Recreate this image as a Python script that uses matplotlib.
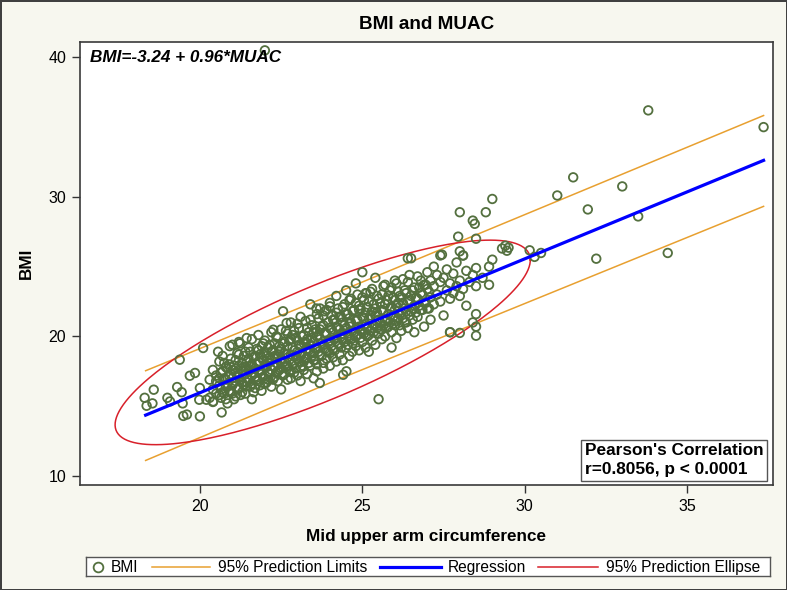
import numpy as np
import matplotlib
matplotlib.use("Agg")
import matplotlib.pyplot as plt

plt.rcParams['font.family'] = ['Liberation Sans', 'DejaVu Sans']

# MUAC columns (cm) and the BMI values in each column
muac_cols = [20.3, 20.4, 20.5, 20.6, 20.7, 20.8, 20.9, 21.0, 21.1, 21.2,
             21.3, 21.4, 21.5, 21.6, 21.7, 21.8, 21.9, 22.0, 22.1, 22.2,
             22.3, 22.4, 22.5, 22.6, 22.7, 22.8, 22.9, 23.0, 23.1, 23.2,
             23.3, 23.4, 23.5, 23.6, 23.7, 23.8, 23.9, 24.0, 24.1, 24.2,
             24.3, 24.4, 24.5, 24.6, 24.7, 24.8, 24.9, 25.0, 25.1, 25.2,
             25.3, 25.4, 25.5, 25.6, 25.7, 25.8, 25.9, 26.0, 26.1, 26.2,
             26.3, 26.4, 26.5, 26.6, 26.7, 26.8, 26.9, 27.0, 27.1, 27.2,
             27.3, 27.4, 27.5, 27.6, 27.7, 27.8, 27.9, 28.0, 28.1, 28.2,
             28.3, 28.4, 28.5, 28.7, 28.9]
bmi_cols = [
    [16.9, 15.6], [17.6, 16.2, 15.3], [16.8, 17.2, 15.9], [18.2, 16.5, 17.0, 15.8],
    [17.5, 16.0, 18.6], [16.9, 17.8, 15.5, 16.4], [17.2, 18.0, 16.1],
    [17.6, 16.5, 19.4, 15.9, 17.0], [18.3, 16.8, 17.4, 15.7], [17.9, 16.3, 18.7, 17.1, 19.6],
    [17.5, 16.0, 18.1, 16.7], [18.9, 17.3, 16.4, 17.8, 15.9], [17.6, 18.4, 16.9, 19.2],
    [18.0, 16.6, 17.2, 19.8, 15.5], [17.7, 18.6, 16.3, 17.1], [18.2, 19.0, 16.8, 17.5, 20.1],
    [17.3, 18.5, 16.1, 19.3], [18.8, 17.0, 17.9, 16.6, 19.7], [18.1, 19.2, 17.4, 16.9],
    [17.6, 18.9, 20.3, 16.4, 18.3], [19.5, 17.8, 18.6, 17.1], [18.0, 16.8, 19.9, 18.7, 17.5],
    [19.1, 17.7, 18.4, 16.2, 20.5], [18.2, 19.6, 17.3, 18.8], [17.9, 19.3, 16.9, 20.2, 18.5],
    [18.7, 17.5, 19.8, 17.0, 21.0], [19.0, 18.1, 20.4, 17.4], [18.4, 19.7, 17.2, 20.9, 18.9],
    [19.3, 17.8, 18.6, 21.4, 16.8], [18.2, 20.1, 19.5, 17.6], [19.8, 18.5, 20.6, 17.3, 19.1],
    [18.9, 21.2, 17.9, 19.4, 22.3], [19.6, 18.3, 20.3, 17.0, 18.8], [20.0, 19.2, 21.6, 18.0, 17.5],
    [18.7, 20.5, 19.8, 22.0], [19.4, 18.1, 20.8, 21.5, 17.7], [20.2, 19.0, 18.4, 21.9],
    [19.7, 20.6, 18.8, 22.4, 17.9], [20.3, 19.1, 21.2, 18.5], [19.9, 21.7, 18.2, 20.7, 22.9],
    [20.5, 19.4, 18.7, 21.4], [21.0, 19.8, 22.1, 18.3, 20.2], [20.6, 19.2, 21.6, 23.3],
    [19.9, 21.3, 18.6, 20.9, 22.6], [20.4, 21.8, 19.5, 18.9], [21.1, 20.0, 22.4, 19.3, 23.8],
    [20.7, 21.9, 19.0, 22.2], [21.4, 20.3, 19.6, 22.8, 24.6], [20.9, 21.7, 19.2, 23.1],
    [21.3, 20.1, 22.5, 18.9], [21.8, 20.6, 19.7, 23.4], [22.0, 20.9, 21.5, 19.4, 24.2],
    [21.2, 22.7, 20.2, 15.5], [21.9, 20.5, 23.0, 19.8], [22.3, 21.1, 20.0, 23.7],
    [21.6, 22.9, 20.7], [22.1, 20.3, 23.5, 19.2], [21.9, 22.6, 20.8, 24.0],
    [22.4, 21.3, 23.2], [21.7, 22.8, 20.4], [23.3, 22.0, 21.0], [22.5, 23.9, 25.6, 20.6],
    [21.8, 22.9, 25.6], [23.5, 22.2, 20.3], [22.7, 24.3, 21.4], [23.1, 21.9, 24.0],
    [22.4, 23.7, 20.7], [23.4, 22.0, 24.6], [22.8, 24.0, 21.2], [23.6, 25.0, 22.3],
    [23.0, 24.4], [22.5, 23.9, 25.8], [24.2, 21.5], [23.3, 24.8], [22.7, 23.8, 20.3],
    [24.5, 23.1], [23.6, 25.3], [24.0, 26.1, 20.25, 22.9], [23.4, 25.8], [24.7, 22.2],
    [23.9], [24.4, 21.0], [23.6, 21.6, 20.7, 20.05, 24.9], [24.2], [25.0, 23.7],
]

# second pass over the dense middle of the band
muac_cols2 = [20.65, 20.75, 20.85, 20.95, 21.05, 21.15, 21.25, 21.35, 21.45, 21.55,
              21.65, 21.75, 21.85, 21.95, 22.05, 22.15, 22.25, 22.35, 22.45, 22.55,
              22.65, 22.75, 22.85, 22.95, 23.05, 23.15, 23.25, 23.35, 23.45, 23.55,
              23.65, 23.75, 23.85, 23.95, 24.05, 24.15, 24.25, 24.35, 24.45, 24.55,
              24.65, 24.75, 24.85, 24.95, 25.05, 25.15, 25.25, 25.35, 25.45, 25.55,
              25.65, 25.75, 25.85, 25.95, 26.05, 26.15, 26.25, 26.35, 26.45, 26.55,
              26.65, 26.75, 26.85, 26.95, 27.05]
bmi_cols2 = [
    [16.2, 17.4, 15.6], [17.0, 15.9, 18.1], [16.6, 17.7, 15.2], [17.3, 16.0, 18.4],
    [16.7, 17.9, 15.5], [17.2, 18.8, 16.2], [16.9, 17.7, 15.8], [17.8, 16.5, 18.6],
    [17.0, 18.2, 16.7], [17.9, 16.4, 18.9], [17.4, 18.5, 16.0], [18.0, 16.9, 19.1],
    [17.6, 18.7, 16.5], [18.3, 17.1, 19.5], [17.8, 16.7, 18.6], [18.5, 17.3, 19.4],
    [17.9, 19.0, 16.9], [18.4, 17.4, 20.0], [18.9, 17.6, 19.3], [18.1, 19.5, 17.2],
    [18.7, 17.8, 20.4], [18.3, 19.7, 17.5], [19.2, 18.0, 20.1], [18.6, 19.9, 17.7],
    [19.4, 18.2, 20.6], [18.8, 20.0, 17.9], [19.6, 18.4, 21.1], [19.0, 20.3, 18.1],
    [19.9, 18.6, 20.8], [19.2, 20.5, 18.3], [20.1, 18.9, 21.3], [19.5, 20.7, 18.6],
    [20.3, 19.1, 21.8], [19.6, 21.0, 18.9], [20.5, 19.3, 21.5], [19.8, 21.2, 19.0],
    [20.6, 19.5, 22.0], [20.0, 21.4, 19.2], [20.8, 19.6, 22.3], [20.2, 21.6, 19.4],
    [21.0, 19.8, 22.7], [20.3, 21.9, 19.7], [21.2, 20.1, 23.0], [20.5, 22.0, 19.9],
    [21.3, 20.2, 22.6], [20.6, 22.1, 20.0], [21.5, 20.4, 23.2], [20.8, 22.3, 20.3],
    [21.7, 20.6, 22.9], [21.0, 22.4, 20.5], [21.8, 20.8, 23.6], [21.2, 22.6, 20.6],
    [22.0, 21.0, 23.3], [21.4, 22.8, 20.9], [22.2, 21.1, 23.8], [21.6, 22.9, 20.8],
    [22.4, 21.3, 24.1], [21.8, 23.1, 21.0], [22.6, 21.5, 24.4], [22.0, 23.3, 21.2],
    [22.8, 21.7], [22.2, 23.5], [23.0, 21.9], [22.4, 23.7], [23.2, 22.0],
]

# single points away from the main band
extra_muac = [18.30, 18.36, 18.58, 18.54, 19.00, 19.08, 19.38, 19.49, 19.60, 20.00,
              20.10, 19.47, 19.30, 19.44, 19.69, 19.85, 20.00, 19.98, 20.20, 20.41,
              20.67, 20.56, 20.92, 21.23, 21.44, 22.56, 22.67, 22.26, 23.69, 23.59,
              24.00, 24.41, 24.51, 25.13, 26.05, 22.00, 33.80, 37.35, 31.49, 31.00,
              33.00, 29.00, 31.94, 33.49, 28.00, 28.80, 28.40, 28.46, 27.95, 28.50,
              32.20, 34.40, 30.15, 30.50, 30.30, 29.30, 29.40, 29.50, 29.45, 27.45,
              28.10, 29.00, 27.70]
extra_bmi = [15.60, 15.03, 16.18, 15.20, 15.60, 15.34, 18.33, 14.30, 14.40, 14.27,
             19.17, 15.20, 16.37, 16.00, 17.18, 17.38, 16.30, 15.46, 15.46, 15.34,
             14.55, 18.90, 19.30, 19.50, 19.88, 21.80, 20.96, 20.48, 16.66, 22.00,
             22.15, 17.25, 17.50, 23.10, 19.88, 40.50, 36.20, 35.00, 31.40, 30.10,
             30.75, 29.85, 29.10, 28.60, 28.90, 28.90, 28.30, 28.07, 27.15, 27.00,
             25.57, 25.98, 26.17, 25.98, 25.70, 26.30, 26.50, 26.36, 26.14, 25.86,
             25.80, 25.50, 20.30]

# fit shown on the chart
intercept, slope = -3.24, 0.96
fit_range = [18.33, 37.35]
# 95% prediction limits read at a few MUAC values
pl_x = [18.33, 24.0, 37.35]
pl_lower = [11.11, 16.67, 29.32]
pl_upper = [17.54, 22.93, 35.83]
# 95% prediction ellipse: centre, half extents, correlation
ell_center = (23.78, 19.57)
ell_half = (6.39, 7.33)
r_value = 0.8056

legend_labels = ['BMI', '95% Prediction Limits', 'Regression', '95% Prediction Ellipse']

GREEN = '#54703f'
ORANGE = '#e8a030'
BLUE = '#0000ff'
RED = '#d8202a'

muac = []
bmi = []
for cols, vals in ((muac_cols, bmi_cols), (muac_cols2, bmi_cols2)):
    for x, ys in zip(cols, vals):
        for y in ys:
            muac.append(x)
            bmi.append(y)
muac += extra_muac
bmi += extra_bmi

W, H = 787, 590
fig = plt.figure(figsize=(W / 100, H / 100), dpi=100)
fig.patch.set_facecolor('#f7f7ef')
fig.patch.set_edgecolor('#404040')
fig.patch.set_linewidth(2)
ax = fig.add_axes([80 / W, 1 - 485 / H, 693 / W, 443 / H])
ax.set_facecolor('white')

ax.plot(pl_x, pl_lower, color=ORANGE, lw=1.1, zorder=2)
ax.plot(pl_x, pl_upper, color=ORANGE, lw=1.1, zorder=2)

t = np.linspace(0, 2 * np.pi, 300)
ex = ell_center[0] + ell_half[0] * np.cos(t)
ey = ell_center[1] + ell_half[1] * (r_value * np.cos(t) + np.sqrt(1 - r_value ** 2) * np.sin(t))
ax.plot(ex, ey, color=RED, lw=1.1, zorder=2)

ax.scatter(muac, bmi, s=38, facecolors='none', edgecolors=GREEN, linewidths=1.3, zorder=3)

fx = np.array(fit_range)
ax.plot(fx, intercept + slope * fx, color=BLUE, lw=2.3, zorder=4)

ax.set_xlim(16.31, 37.64)
ax.set_ylim(9.35, 41.1)
ax.set_xticks([20, 25, 30, 35])
ax.set_yticks([10, 20, 30, 40])
ax.tick_params(direction='out', length=6, width=1, labelsize=11.5, color='#333333', pad=4)
ax.tick_params(top=False, right=False)
for sp in ax.spines.values():
    sp.set_color('#3a3a3a')
    sp.set_linewidth(1.2)

ax.set_xlabel('Mid upper arm circumference', fontsize=12.3, fontweight='bold', labelpad=11)
ax.set_ylabel('BMI', fontsize=12.3, fontweight='bold', labelpad=10)
fig.text(0.5418, 0.958, 'BMI and MUAC', ha='center', va='center', fontsize=13.6, fontweight='bold')

ax.text(0.015, 0.982, 'BMI=-3.24 + 0.96*MUAC', transform=ax.transAxes, ha='left', va='top',
        fontsize=12.3, fontweight='bold', fontstyle='italic')
ax.text(0.986, 0.018, "Pearson's Correlation\nr=0.8056, p < 0.0001", transform=ax.transAxes,
        ha='right', va='bottom', multialignment='left', fontsize=12.4, fontweight='bold',
        linespacing=1.3, bbox=dict(boxstyle='square,pad=0.22', fc='white', ec='#555555', lw=1))

# legend strip drawn by hand so the short marker entry matches the original
lax = fig.add_axes([86 / W, 1 - 576 / H, 684 / W, 19 / H])
lax.set_xlim(86, 770)
lax.set_ylim(0, 1)
lax.set_xticks([])
lax.set_yticks([])
lax.set_facecolor('white')
for sp in lax.spines.values():
    sp.set_color('#555555')
    sp.set_linewidth(1)
lax.plot([98], [0.5], ls='none', marker='o', mfc='none', mec=GREEN, mew=1.3, ms=7)
lax.plot([152, 210], [0.5, 0.5], color=ORANGE, lw=1.1)
lax.plot([380, 441], [0.5, 0.5], color=BLUE, lw=2.3)
lax.plot([538, 598], [0.5, 0.5], color=RED, lw=1.1)
for xpos, lab in zip([111, 218, 448, 606], legend_labels):
    lax.text(xpos, 0.47, lab, ha='left', va='center', fontsize=11.2)

fig.savefig('out.png', dpi=100, facecolor=fig.get_facecolor(), edgecolor=fig.get_edgecolor())
